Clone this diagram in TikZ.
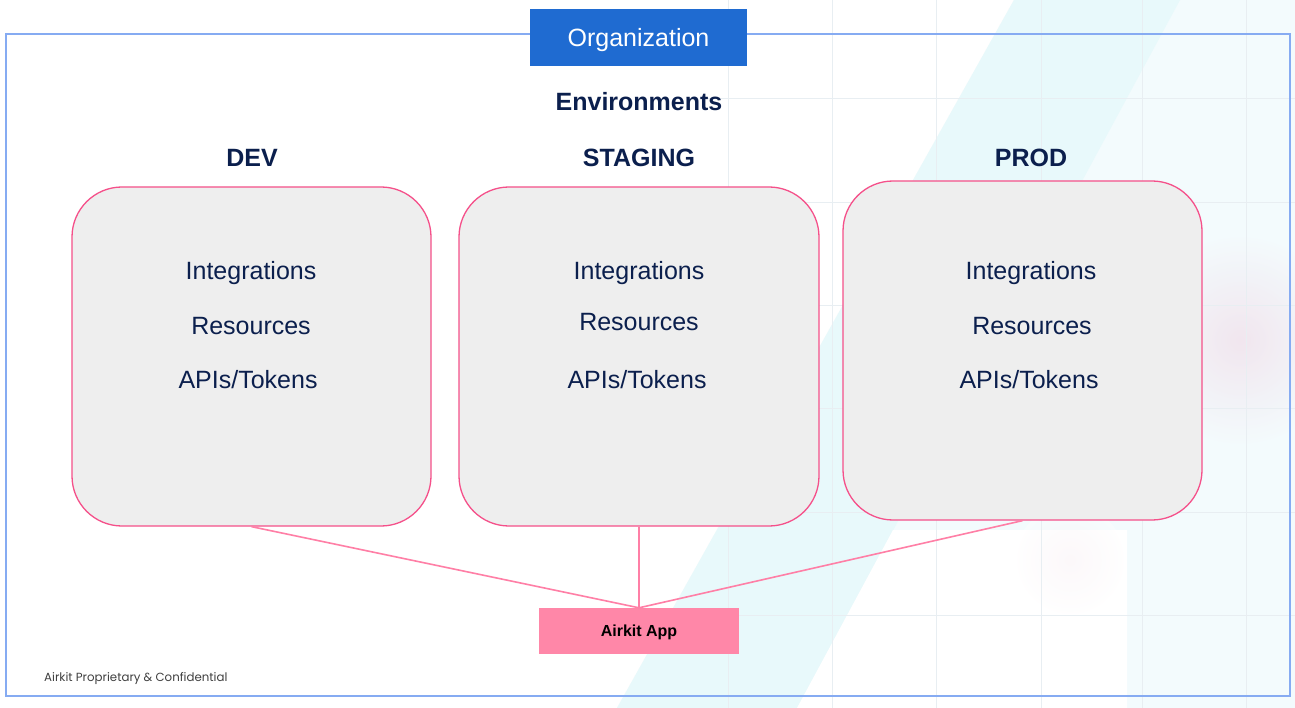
\documentclass[tikz,border=0pt]{standalone}
\usepackage{fontspec}
\setmainfont{Liberation Sans}
\newfontfamily\footfont{Poppins}
\definecolor{navy}{HTML}{0B1F4D}
\definecolor{pinkline}{HTML}{F5508A}
\definecolor{conn}{HTML}{FF7FA6}
\definecolor{appfill}{HTML}{FF87A8}
\definecolor{orgblue}{HTML}{1F6BD1}
\definecolor{framecol}{HTML}{86ABF2}
\definecolor{boxfill}{HTML}{EEEEEE}
\definecolor{cyanbg}{HTML}{E8F9FB}
\definecolor{palebg}{HTML}{F3FBFD}
\definecolor{gridcol}{HTML}{E8EEF2}
\definecolor{glow}{HTML}{F1D8E5}
\begin{document}
\begin{tikzpicture}[x=1pt,y=-1pt,
  envbox/.style={draw=pinkline,line width=1.3pt,fill=boxfill,rounded corners=50pt,inner sep=0pt},
  itemtxt/.style={text=navy,font=\fontsize{25}{30}\selectfont,inner sep=0pt,text depth=0pt},
  headtxt/.style={text=navy,font=\fontsize{25}{30}\selectfont\bfseries,inner sep=0pt,text depth=0pt},
  link/.style={draw=conn,line width=1.6pt}]
\useasboundingbox (0,0) rectangle (1295,708);
\fill[white] (0,0) rectangle (1295,708);
% decorative background
\fill[palebg] (1014,0) -- (1295,0) -- (1295,708) -- (617,708) -- cycle;
\fill[cyanbg] (1014,0) -- (1180,0) -- (797,708) -- (617,708) -- cycle;
\fill[white] (893,530) -- (1127,530) -- (1127,708) -- (797,708) -- cycle;
\shade[inner color=glow,outer color=palebg,opacity=0.6] (1240,340) circle (105);
\shade[inner color=glow!50,outer color=white,opacity=0.35] (1070,560) circle (55);
\foreach \gx in {728,832,936,1041,1142,1246} \draw[gridcol,line width=0.5pt] (\gx,0) -- (\gx,708);
\foreach \gy in {98,202,305,408,512,615} \draw[gridcol,line width=0.5pt] (700,\gy) -- (1295,\gy);
% frame
\draw[framecol,line width=1.4pt] (6,34) rectangle (1290,696);
\node[fill=orgblue,text=white,minimum width=217pt,minimum height=57pt,inner sep=0pt,text depth=0pt,font=\fontsize{25}{30}\selectfont] (org) at (638.5,37.5) {Organization};
\node[headtxt,font=\fontsize{25}{30}\selectfont\bfseries] (envs) at (639,101) {Environments};
% headers
\node[headtxt] (hdev) at (252,158) {DEV};
\node[headtxt] (hstg) at (639,158) {STAGING};
\node[headtxt] (hprod) at (1031,158) {PROD};
% boxes
\node[envbox,minimum width=359pt,minimum height=339pt] (dev) at (251.5,356.5) {};
\node[envbox,minimum width=360pt,minimum height=339pt] (stg) at (639,356.5) {};
\node[envbox,minimum width=359pt,minimum height=339pt] (prod) at (1022.5,350.5) {};
% items
\node[itemtxt] (dint) at (251,270) {Integrations};
\node[itemtxt] (dres) at (251,326) {Resources};
\node[itemtxt] (dapi) at (248,379) {APIs/Tokens};
\node[itemtxt] (sint) at (639,270) {Integrations};
\node[itemtxt] (sres) at (639,322) {Resources};
\node[itemtxt] (sapi) at (637,379) {APIs/Tokens};
\node[itemtxt] (pint) at (1031,270) {Integrations};
\node[itemtxt] (pres) at (1032,326) {Resources};
\node[itemtxt] (papi) at (1029,379) {APIs/Tokens};
% app
\node[fill=appfill,minimum width=200pt,minimum height=46pt,inner sep=0pt,text depth=0pt,font=\fontsize{16}{20}\selectfont\bfseries] (app) at (639,631) {Airkit App};
\draw[link] (dev.south) -- (app.north);
\draw[link] (stg.south) -- (app.north);
\draw[link] (prod.south) -- (app.north);
% footer
\node[anchor=west,inner sep=0pt,text=black!75,font=\footfont\fontsize{11.8}{13}\selectfont] (foot) at (44,679) {Airkit Proprietary \& Confidential};
\end{tikzpicture}
\end{document}
